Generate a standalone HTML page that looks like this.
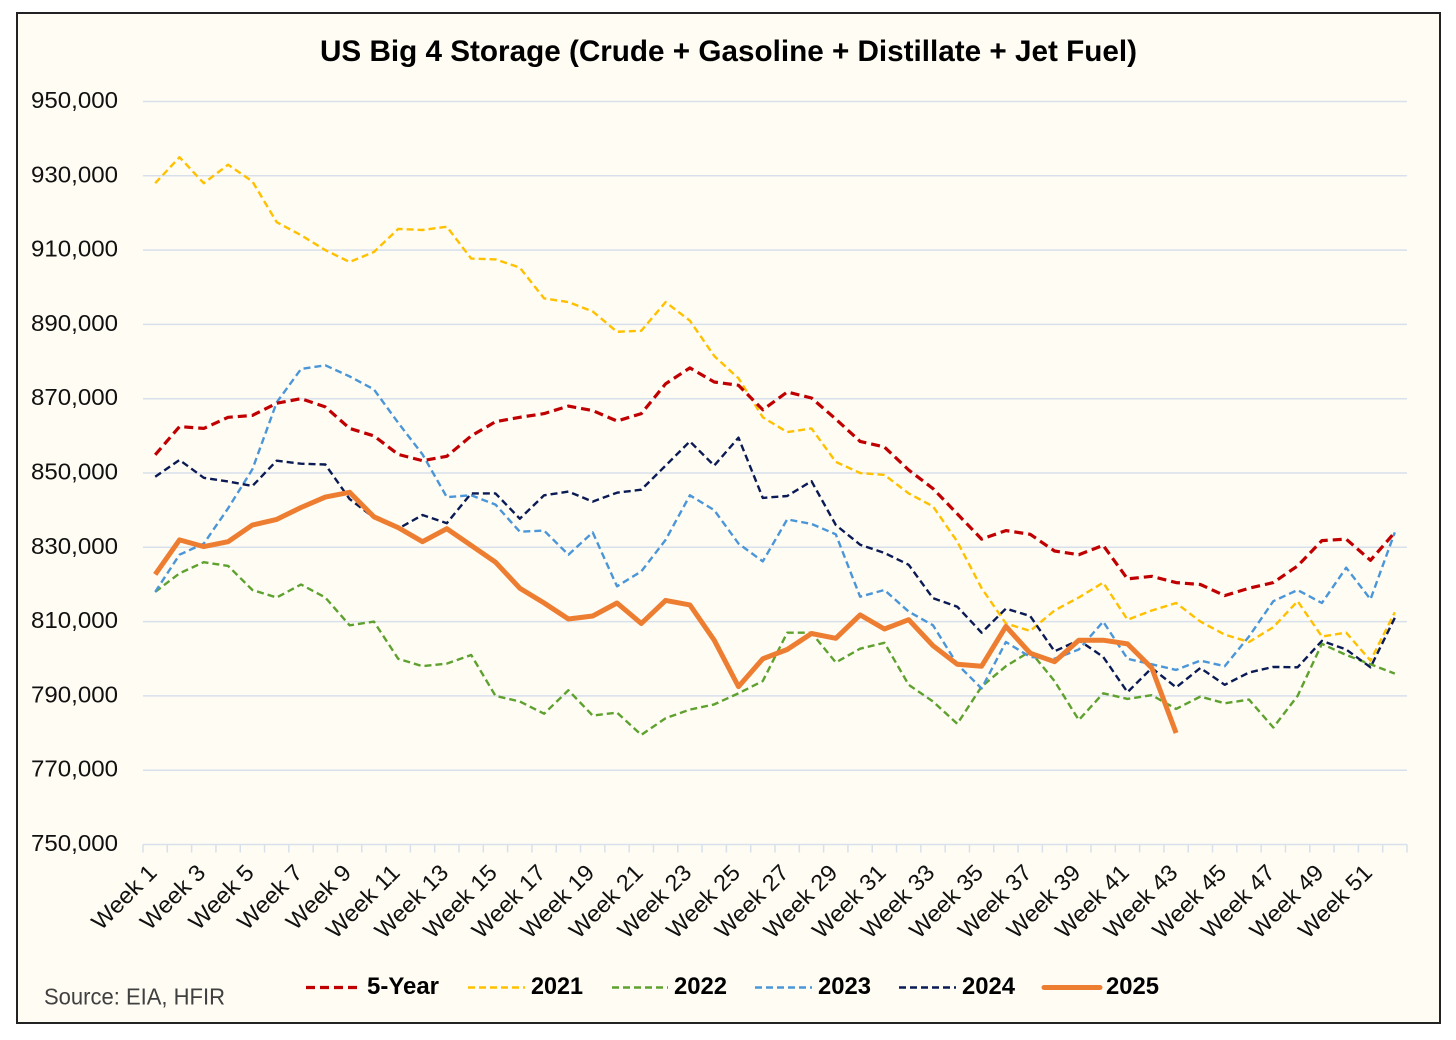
<!DOCTYPE html>
<html lang="en">
<head>
<meta charset="utf-8">
<title>US Big 4 Storage</title>
<style>
html,body{margin:0;padding:0;background:#fff;width:1456px;height:1040px;overflow:hidden}
svg{display:block}
text{font-family:"Liberation Sans",sans-serif}
</style>
</head>
<body>
<svg id="chart" xmlns="http://www.w3.org/2000/svg" width="1456" height="1040" viewBox="0 0 1456 1040">
  <rect x="17" y="13" width="1423" height="1010" fill="#fffcf3" stroke="#222" stroke-width="2"/>
  <text x="320" y="61" font-size="30" font-weight="bold" fill="#000" textLength="817" lengthAdjust="spacingAndGlyphs">US Big 4 Storage (Crude + Gasoline + Distillate + Jet Fuel)</text>
  <g id="grid"></g>
  <g id="yticks"></g>
  <g id="xaxis"></g>
  <g id="series"></g>
  <g>
    <g>
      <line x1="306" y1="987.5" x2="362" y2="987.5" stroke="#c00000" stroke-width="3.2" stroke-dasharray="9 5"/>
      <text x="367" y="994" font-size="24" font-weight="bold" textLength="72" lengthAdjust="spacingAndGlyphs">5-Year</text>
    </g>
    <g>
      <line x1="468" y1="987.5" x2="525" y2="987.5" stroke="#ffc000" stroke-width="2.4" stroke-dasharray="7 4"/>
      <text x="531" y="994" font-size="24" font-weight="bold" textLength="52" lengthAdjust="spacingAndGlyphs">2021</text>
    </g>
    <g>
      <line x1="612" y1="987.5" x2="668" y2="987.5" stroke="#5ea12f" stroke-width="2.4" stroke-dasharray="7 4"/>
      <text x="674" y="994" font-size="24" font-weight="bold" textLength="53" lengthAdjust="spacingAndGlyphs">2022</text>
    </g>
    <g>
      <line x1="755" y1="987.5" x2="812" y2="987.5" stroke="#4a96d8" stroke-width="2.4" stroke-dasharray="7 4"/>
      <text x="818" y="994" font-size="24" font-weight="bold" textLength="53" lengthAdjust="spacingAndGlyphs">2023</text>
    </g>
    <g>
      <line x1="899" y1="987.5" x2="956" y2="987.5" stroke="#0a1a55" stroke-width="2.4" stroke-dasharray="7 4"/>
      <text x="962" y="994" font-size="24" font-weight="bold" textLength="53" lengthAdjust="spacingAndGlyphs">2024</text>
    </g>
    <g>
      <line x1="1044" y1="987.5" x2="1100" y2="987.5" stroke="#ed7d31" stroke-width="5" stroke-linecap="round"/>
      <text x="1106" y="994" font-size="24" font-weight="bold" textLength="53" lengthAdjust="spacingAndGlyphs">2025</text>
    </g>
  </g>
  <text x="44" y="1004.5" font-size="23" fill="#404040" textLength="181" lengthAdjust="spacingAndGlyphs">Source: EIA, HFIR</text>
</svg>
<script>
const yTicks = [950000, 930000, 910000, 890000, 870000, 850000, 830000, 810000, 790000, 770000, 750000];
const weekLabels = ["Week 1","Week 3","Week 5","Week 7","Week 9","Week 11","Week 13","Week 15","Week 17","Week 19","Week 21","Week 23","Week 25","Week 27","Week 29","Week 31","Week 33","Week 35","Week 37","Week 39","Week 41","Week 43","Week 45","Week 47","Week 49","Week 51"];
const weekCount = 52;
const fiveYear = [854900,862500,862000,865000,865500,868800,870000,867800,862000,860000,855000,853300,854500,860000,863800,865000,866000,868000,866800,864000,866000,874000,878300,874500,873600,867000,871800,870200,864500,858500,857000,850800,845800,839000,832200,834500,833500,829000,828000,830500,821500,822200,820500,820000,817000,819000,820500,825000,831800,832200,826500,834000];
const y2021 = [928000,935000,928000,933000,928500,917500,914000,910000,906800,909500,915700,915400,916300,907700,907500,905300,897000,896000,893500,888000,888300,896000,891000,881500,875500,865000,861000,862000,853000,850000,849500,844500,841000,831500,819000,809500,807500,813000,816500,820500,810500,813000,815000,810000,806500,804500,808500,815500,806000,807000,799500,812500];
const y2022 = [818000,823000,826000,825000,818500,816500,820000,816500,809000,810000,800000,798000,798700,801000,790000,788500,785200,791500,784700,785500,779500,784000,786300,787700,790700,794000,807000,807000,799000,802700,804300,793000,788500,782500,792500,798000,802000,794000,783500,790700,789200,790200,786500,789800,788000,789000,781500,790000,804000,801000,798500,796000];
const y2023 = [818000,828000,831000,840500,851000,869000,878000,879000,876000,872500,863500,855000,843500,844000,841500,834200,834500,828000,834000,819500,823500,832000,844000,840000,831000,826200,837500,836300,833500,816700,818500,812700,809000,798500,792000,804500,800500,800000,802500,810000,800000,798500,797000,799500,798000,806000,815500,818500,815000,824500,816000,834000];
const y2024 = [849000,853500,848700,847700,846500,853300,852500,852300,843000,838000,835000,838700,836500,844500,844500,837700,844000,845000,842300,844700,845500,852000,858500,852000,859500,843300,843800,847800,836000,830700,828500,825300,816300,814000,807000,813500,811500,802000,805000,800500,791000,797500,792300,797500,793000,796300,797800,797700,804800,802500,797700,811000];
const y2025 = [822700,832000,830200,831500,836000,837500,840700,843500,844800,838200,835300,831500,835000,830500,826000,819000,815000,810700,811500,815000,809500,815700,814500,805000,792500,800000,802500,806800,805500,811800,808000,810500,803500,798500,798000,808700,801500,799200,805000,805000,804000,797500,780000];

const NS = "http://www.w3.org/2000/svg";
const plotLeft = 143, plotRight = 1407, plotTop = 101.5, plotBottom = 844.5;
const yMax = 950000, yMin = 750000;

function xScale(i){ return plotLeft + (plotRight - plotLeft) * (i + 0.5) / weekCount; }
function xEdge(i){ return plotLeft + (plotRight - plotLeft) * i / weekCount; }
function yScale(v){ return plotTop + (yMax - v) * (plotBottom - plotTop) / (yMax - yMin); }
function make(tag, parent, attrs){
  const el = document.createElementNS(NS, tag);
  for (const k in attrs) el.setAttribute(k, attrs[k]);
  parent.appendChild(el);
  return el;
}

const grid = document.getElementById("grid");
const yLabels = document.getElementById("yticks");
yTicks.forEach(function(t){
  const line = make("line", grid, {x1: plotLeft, x2: plotRight, y1: yScale(t), y2: yScale(t), stroke: "#d8e0ec", "stroke-width": 1.5});
  
  
  const label = make("text", yLabels, {x: 118, y: yScale(t) + 6.5, "text-anchor": "end", "font-size": 23, fill: "#111", textLength: 87, lengthAdjust: "spacingAndGlyphs"});
  
  
  label.textContent = t.toLocaleString("en-US");
});

const xAxis = document.getElementById("xaxis");
for (let i = 0; i <= weekCount; i++) {
  const tick = make("line", xAxis, {x1: xEdge(i), x2: xEdge(i), y1: plotBottom, y2: plotBottom + 8, stroke: "#d8e0ec", "stroke-width": 1.5});
  
  
}
weekLabels.forEach(function(w, n){
  const px = xScale(n * 2) + 3, py = 874;
  const label = make("text", xAxis, {x: px, y: py, "text-anchor": "end", "font-size": 23, fill: "#111", transform: "rotate(-45 " + px + " " + py + ")", textLength: w.length > 6 ? 93 : 81, lengthAdjust: "spacingAndGlyphs"});
  
  
  label.textContent = w;
});

const seriesGroup = document.getElementById("series");
function drawLine(values, name, color, width, dash){
  const pts = values.map(function(v, i){ return xScale(i).toFixed(1) + "," + yScale(v).toFixed(1); }).join(" ");
  const attrs = {points: pts, fill: "none", stroke: color, "stroke-width": width, "stroke-linejoin": "round"};
  if (dash) attrs["stroke-dasharray"] = dash;
  const el = make("polyline", seriesGroup, attrs);
  
  
}
drawLine(y2021, "line-2021", "#ffc000", 2.4, "7 4");
drawLine(y2022, "line-2022", "#5ea12f", 2.4, "7 4");
drawLine(y2023, "line-2023", "#4a96d8", 2.4, "7 4");
drawLine(y2024, "line-2024", "#0a1a55", 2.4, "7 4");
drawLine(fiveYear, "line-5-year", "#c00000", 3.2, "9 5");
drawLine(y2025, "line-2025", "#ed7d31", 5, "");
</script>
</body>
</html>
